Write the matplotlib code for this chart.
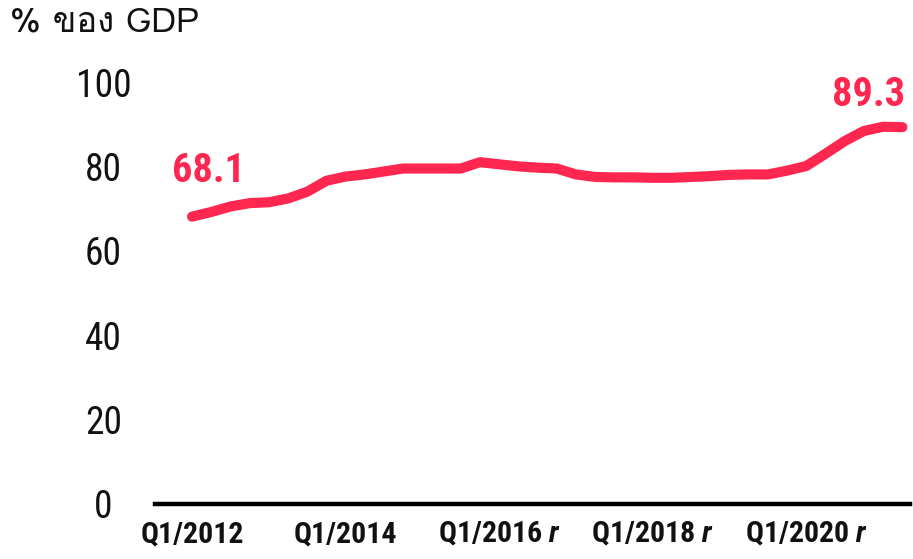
import matplotlib
matplotlib.use("Agg")
import matplotlib.pyplot as plt
from matplotlib import font_manager as fm
from matplotlib.ft2font import FT2Font

# ---- data ----
quarters = [f"Q{q}/{y}" for y in range(2012, 2022) for q in range(1, 5)][:38]
debt_pct_gdp = [68.1, 69.2, 70.5, 71.3, 71.5, 72.4, 74.0, 76.6, 77.6, 78.1,
                78.8, 79.5, 79.5, 79.5, 79.5, 81.0, 80.5, 80.0, 79.7, 79.5,
                78.1, 77.5, 77.4, 77.4, 77.3, 77.3, 77.5, 77.7, 78.0, 78.1,
                78.1, 79.0, 80.1, 83.0, 86.0, 88.4, 89.4, 89.3]
tick_quarters = ["Q1/2012", "Q1/2014", "Q1/2016", "Q1/2018", "Q1/2020"]
tick_suffix = ["", "", "r", "r", "r"]
y_ticks = [0, 20, 40, 60, 80, 100]
title = "% ของ GDP"

# ---- fonts ----
names = {f.name for f in fm.fontManager.ttflist}
narrow = "DejaVu Sans"
for cand in ["Liberation Sans Narrow", "Roboto Condensed", "Open Sans Condensed", "DejaVu Sans Condensed"]:
    if cand in names:
        narrow = cand
        break
thai = None
for f in fm.fontManager.ttflist:
    try:
        if ord("ข") in FT2Font(f.fname).get_charmap():
            thai = f.name
            break
    except Exception:
        pass
title_family = [thai, "DejaVu Sans"] if thai else ["DejaVu Sans"]

plt.rcParams["mathtext.fontset"] = "custom"
plt.rcParams["mathtext.it"] = f"{narrow}:italic:bold"
plt.rcParams["mathtext.rm"] = f"{narrow}:bold"

RED = "#FF2650"

fig = plt.figure(figsize=(9.13, 5.59), dpi=100)
ax = fig.add_axes([155 / 913, 1 - 504 / 559, (910 - 155) / 913, 0.8304])

x = list(range(len(debt_pct_gdp)))
ax.plot(x, debt_pct_gdp, color=RED, lw=7.3, solid_capstyle="round", solid_joinstyle="round")

ax.set_xlim(-1.93, 37.4)
ax.set_ylim(0, 110)

for s in ["top", "right", "left"]:
    ax.spines[s].set_visible(False)
ax.spines["bottom"].set_linewidth(3.2)
ax.spines["bottom"].set_color("black")

ax.set_yticks(y_ticks)
ax.set_yticklabels([str(v) for v in y_ticks], fontfamily=narrow, fontsize=27, color="#111111")
ax.tick_params(axis="y", length=0, pad=37)
for lab in ax.get_yticklabels():
    lab.set_ha("center")

tick_pos = [quarters.index(q) for q in tick_quarters]
labels = [q + (r" $\mathit{r}$" if s else "") for q, s in zip(tick_quarters, tick_suffix)]
ax.set_xticks(tick_pos)
ax.set_xticklabels(labels, fontfamily=narrow, fontweight="bold", fontsize=21.5, color="#111111")
ax.tick_params(axis="x", length=0, pad=12)

ax.annotate(f"{debt_pct_gdp[0]:.1f}", xy=(0, debt_pct_gdp[0]), xytext=(11.5, 32.5),
            textcoords="offset points", ha="center", va="center",
            fontfamily=narrow, fontweight="bold", fontsize=29, color=RED)
ax.annotate(f"{debt_pct_gdp[-1]:.1f}", xy=(len(debt_pct_gdp) - 1, debt_pct_gdp[-1]), xytext=(-24, 23),
            textcoords="offset points", ha="center", va="center",
            fontfamily=narrow, fontweight="bold", fontsize=29, color=RED)

fig.text(10 / 913, 1 - 23 / 559, title, ha="left", va="center",
         fontfamily=title_family, fontsize=25, color="#111111")

fig.savefig("out.png", dpi=100, facecolor="white")
